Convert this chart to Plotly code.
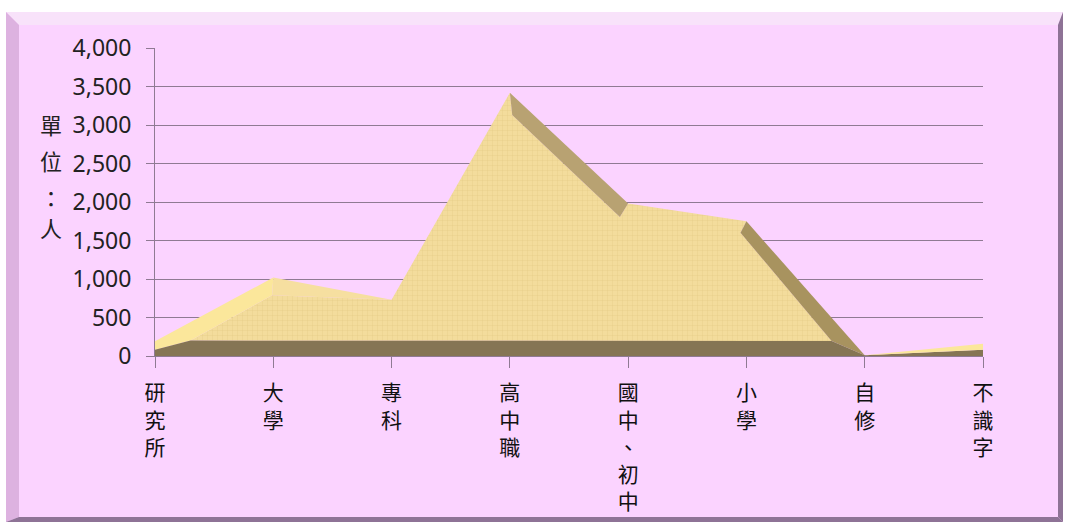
import plotly.graph_objects as go

W, H = 1065, 523
PL, PR, PT, PB = 155, 983, 48, 356

categories = ["研究所", "大學", "專科", "高中職", "國中、初中", "小學", "自修", "不識字"]
values = [190, 1020, 730, 3420, 1980, 1750, 10, 160]
y_ticks = [0, 500, 1000, 1500, 2000, 2500, 3000, 3500, 4000]
y_title_chars = ["單", "位", "：", "人"]
y_title_px = [124, 160, 197, 227]

# inner (front-face) outline of the bevelled area
inner_x = [0.30, 0.99, 2.00, 3.02, 3.93, 4.00, 4.95, 5.72]
inner_y = [200, 790, 730, 3130, 1805, 1980, 1600, 195]
left_low = 80      # where the floor bevel meets the first category
right_low = 80     # same for the last category

PANEL = "#FBD3FF"
FRONT = "#F3DC9C"
LIGHT = "#FBE79B"
SOFT = "#F6DFA0"
DARK1 = "#B8A272"
DARK2 = "#A8935F"
FLOOR = "#857554"
GRID = "#8F7A93"


def face(xs, ys, color, pattern=False):
    t = go.Scatter(x=xs + xs[:1], y=ys + ys[:1], mode="lines", fill="toself",
                   fillcolor=color, line=dict(width=0), hoverinfo="skip", showlegend=False)
    if pattern:
        t.update(fillpattern=dict(shape="+", size=5, solidity=0.12,
                                  fgcolor="#E2C784", bgcolor=color, fillmode="replace"))
    return t


ix, iy = inner_x, inner_y
fig = go.Figure()
# front face
fig.add_trace(face([ix[0], ix[1], ix[2], 3, ix[3], ix[4], ix[5], 5, ix[6], ix[7]],
                   [iy[0], iy[1], iy[2], values[3], iy[3], iy[4], iy[5], values[5], iy[6], iy[7]],
                   FRONT, True))
# rising and gently falling bevels
fig.add_trace(face([0, 0, 1, ix[1], ix[0]], [left_low, values[0], values[1], iy[1], iy[0]], LIGHT))
fig.add_trace(face([1, 2, ix[1]], [values[1], values[2], iy[1]], SOFT))
# falling bevels
fig.add_trace(face([3, 4, ix[4], ix[3]], [values[3], values[4], iy[4], iy[3]], DARK1))
fig.add_trace(face([5, 6, ix[7], ix[6]], [values[5], values[6], iy[7], iy[6]], DARK2))
# floor
fig.add_trace(face([0, 0, ix[0], ix[7], 6, 7, 7], [0, left_low, iy[0], iy[7], values[6], right_low, 0], FLOOR))
# tail between the last two categories
fig.add_trace(face([6, 7, 7], [values[6], values[7], right_low], LIGHT))


def px(x0, y0, x1, y1, x2, y2, x3, y3, color):
    pts = [(x0, y0), (x1, y1), (x2, y2), (x3, y3)]
    path = "M " + " L ".join(f"{x / W:.5f},{1 - y / H:.5f}" for x, y in pts) + " Z"
    return dict(type="path", xref="paper", yref="paper", path=path, fillcolor=color,
                line=dict(width=0), layer="below")


shapes = [
    px(6, 12, 1063, 12, 1063, 522, 6, 522, PANEL),
    px(6, 12, 1063, 12, 1058, 25, 19, 25, "#F8E2FA"),
    px(6, 12, 19, 25, 19, 517, 6, 522, "#DDB2E0"),
    px(1063, 12, 1063, 522, 1058, 517, 1058, 25, "#8E7396"),
    px(6, 522, 1063, 522, 1058, 517, 19, 517, "#8E7396"),
]

annotations = [
    dict(text=c, xref="paper", yref="paper", x=51 / W, y=1 - p / H, showarrow=False,
         xanchor="center", yanchor="middle",
         font=dict(size=22, color="#222222", family="Noto Sans CJK TC"))
    for c, p in zip(y_title_chars, y_title_px)
]

fig.update_layout(
    width=W, height=H, margin=dict(l=0, r=0, t=0, b=0, autoexpand=False), autosize=False,
    paper_bgcolor="white", plot_bgcolor="rgba(0,0,0,0)", showlegend=False,
    shapes=shapes, annotations=annotations,
    xaxis=dict(domain=[PL / W, PR / W], range=[0, 7], tickmode="array",
               tickvals=list(range(len(categories))),
               ticktext=["<br>".join(c) for c in categories], tickangle=0,
               ticks="outside", ticklen=11, tickcolor=GRID, tickwidth=1,
               showgrid=False, zeroline=False, showline=True, linecolor=GRID,
               ticklabelstandoff=7,
               tickfont=dict(size=21, color="#111111", family="Noto Sans CJK TC")),
    yaxis=dict(domain=[1 - PB / H, 1 - PT / H], range=[0, 4000], tickmode="array",
               tickvals=y_ticks, ticktext=[f"{v:,}" for v in y_ticks],
               ticks="outside", ticklen=8, tickcolor=GRID, tickwidth=1,
               showgrid=True, gridcolor=GRID, gridwidth=1, zeroline=False,
               showline=True, linecolor=GRID, ticklabelstandoff=10,
               tickfont=dict(size=23, color="#222222", family="Noto Sans")),
)

fig.write_html("out.html", config=dict(displayModeBar=False),
               post_script="document.body.style.margin='0';")
